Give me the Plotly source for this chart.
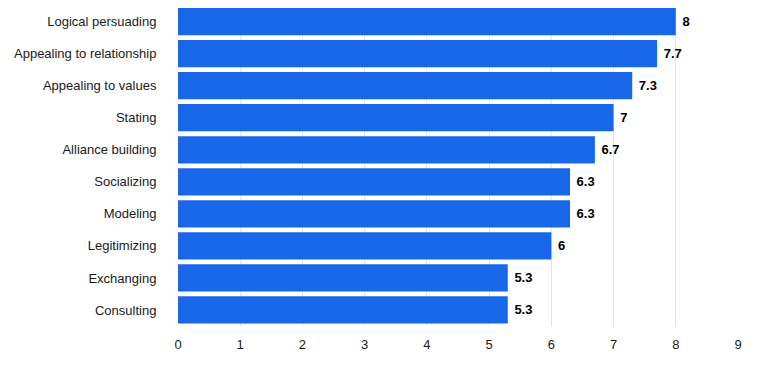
import plotly.graph_objects as go

categories = ["Logical persuading", "Appealing to relationship", "Appealing to values",
              "Stating", "Alliance building", "Socializing", "Modeling",
              "Legitimizing", "Exchanging", "Consulting"]
values = [8, 7.7, 7.3, 7, 6.7, 6.3, 6.3, 6, 5.3, 5.3]
value_labels = ["8", "7.7", "7.3", "7", "6.7", "6.3", "6.3", "6", "5.3", "5.3"]
x_ticks = [0, 1, 2, 3, 4, 5, 6, 7, 8, 9]

FONT = "Liberation Sans, Arial, sans-serif"

fig = go.Figure(go.Bar(
    x=values, y=categories, orientation="h",
    marker=dict(color="#1767e8", line=dict(width=0)),
    text=["\u00a0" + t for t in value_labels], textposition="outside",
    textfont=dict(family=FONT, size=13, color="#000000", weight="bold"),
    cliponaxis=False,
))

fig.update_layout(
    width=775, height=373,
    margin=dict(l=170, r=45, t=0, b=55),
    paper_bgcolor="white", plot_bgcolor="white",
    bargap=0.15,
    font=dict(family=FONT, size=13, color="#1a1a1a"),
    showlegend=False,
    xaxis=dict(range=[0, 9], tickvals=x_ticks, showgrid=True, gridcolor="#e3e3e3",
               gridwidth=1, zeroline=False, showline=False, ticks="outside",
               ticklen=0, ticklabelstandoff=6, tickfont=dict(size=13, color="#1a1a1a")),
    yaxis=dict(range=[9.5, -0.425], showgrid=False, showline=False, zeroline=False,
               ticks="outside", ticklen=0, ticklabelstandoff=18,
               tickfont=dict(size=13, color="#1a1a1a")),
)

fig.write_html("out.html")
